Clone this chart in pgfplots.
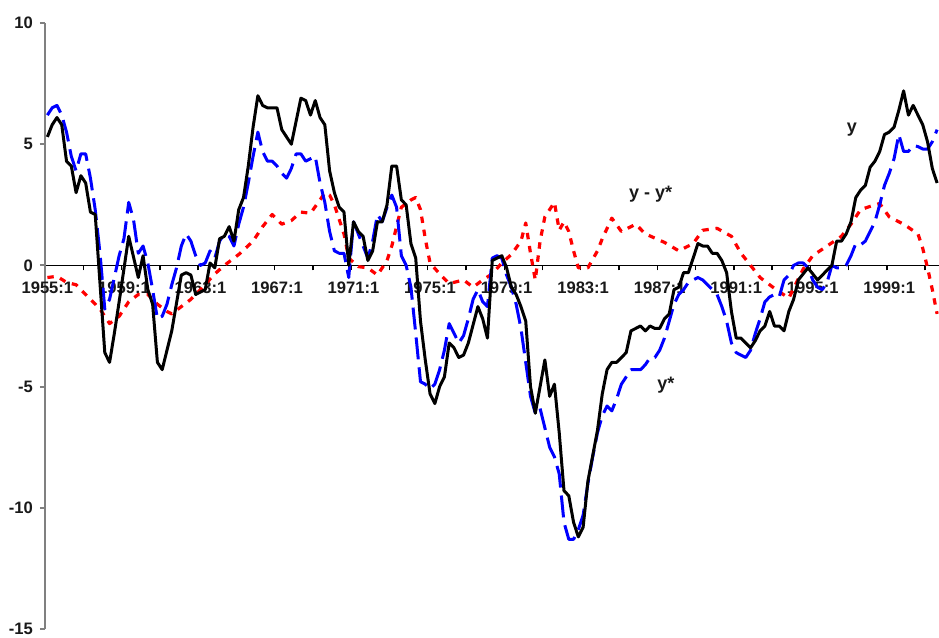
\documentclass[border=0pt]{standalone}
\usepackage{fontspec}
\setmainfont{Liberation Sans}
\usepackage{pgfplots}
\pgfplotsset{compat=1.18}
\definecolor{ystar}{RGB}{0,0,255}
\definecolor{gap}{RGB}{255,0,0}
\begin{document}
\begin{tikzpicture}
\begin{axis}[
  scale only axis, width=447pt, height=303pt,
  xmin=-0.5, xmax=186.4, ymin=-15, ymax=10,
  axis x line*=middle, axis y line*=left,
  hide obscured x ticks=false, hide obscured y ticks=false,
  x axis line style={black, line width=0.8pt},
  y axis line style={gray, line width=1pt},
  xtick={0,16,...,176},
  xticklabels={1955:1,1959:1,1963:1,1967:1,1971:1,1975:1,1979:1,1983:1,1987:1,1991:1,1995:1,1999:1},
  minor xtick={-0.5,7.5,...,183.5},
  ytick={-15,-10,-5,0,5,10},
  yticklabels={-15,-10,-5,0,5,10},
  tick align=outside,
  major tick length=2.5pt, minor tick length=2.5pt,
  major x tick style={draw=none},
  minor x tick style={black, line width=0.7pt},
  y tick style={gray, line width=1pt},
  xticklabel style={font=\bfseries\fontsize{8.3}{10}\selectfont, text=black!90, yshift=-2pt},
  yticklabel style={font=\bfseries\fontsize{8.3}{10}\selectfont, text=black!90},
  line join=round,
]
\coordinate (bl) at (rel axis cs:0,0);
\coordinate (tr) at (rel axis cs:1,1);

\addplot[gap, line width=1.6pt, dash pattern=on 3.2pt off 3.4pt] coordinates {
(0,-0.5)(2,-0.45)(4,-0.7)(6,-0.8)(8,-1.2)(10,-1.6)(11,-1.8)(13,-2.4)(15,-2.1)(17,-1.5)
(19,-1.2)(21,-1.2)(23,-1.6)(25,-1.9)(26,-2.0)(28,-1.7)(30,-1.4)(32,-1.0)(35,-0.35)(37,0.0)
(40,0.45)(43,1.0)(45,1.6)(47,2.1)(49,1.7)(51,1.85)(53,2.2)(55,2.15)(57,2.7)(58,3.0)
(59,2.9)(60,2.5)(62,1.3)(63,0.3)(65,-0.05)(67,-0.1)(69,-0.4)(71,0.2)(72,0.8)(73,1.6)
(74,2.4)(76,2.7)(77,2.8)(78,2.3)(79,1.1)(80,0.1)(82,-0.35)(84,-0.75)(87,-0.6)(89,-0.9)
(91,-0.6)(93,-0.35)(95,0.1)(97,0.45)(99,1.0)(100,1.75)(101,0.5)(102,-0.6)(103,1.0)(104,2.0)
(106,2.6)(107,1.45)(108,1.8)(109,1.4)(110,0.6)(111,-0.1)(113,-0.1)(115,0.6)(116,1.1)(118,1.95)
(120,1.4)(123,1.7)(125,1.3)(129,0.95)(132,0.6)(135,0.9)(137,1.45)(140,1.53)(143,1.2)(145,0.5)
(147,0.0)(149,-0.5)(152,-0.95)(155,-1.35)(158,-0.15)(160,0.4)(163,0.8)(166,1.2)(168,1.7)(170,2.3)
(173,2.5)(174,2.55)(176,2.0)(179,1.7)(182,1.3)(183,0.7)(184,-0.1)(185,-1.0)(186,-2.0)
};

\addplot[ystar, line width=1.5pt, dash pattern=on 11pt off 4pt] coordinates {
(0,6.2)(1,6.5)(2,6.6)(3,6.2)(4,5.5)(5,4.5)(6,3.9)(7,4.6)(8,4.6)(9,3.6)
(10,2.3)(11,0.5)(12,-1.8)(13,-1.4)(14,-0.5)(15,0.4)(16,1.1)(17,2.6)(18,1.9)(19,0.5)
(20,0.8)(21,0.1)(22,-1.0)(23,-2.2)(24,-2.1)(25,-1.6)(26,-0.8)(27,-0.1)(28,0.8)(29,1.3)
(30,1.0)(31,0.4)(32,0.0)(33,0.1)(34,0.6)(35,0.3)(36,1.0)(37,1.3)(38,1.2)(39,0.8)
(40,1.7)(41,2.4)(42,3.4)(43,4.5)(44,5.5)(45,4.7)(46,4.3)(47,4.3)(48,4.1)(49,3.8)
(50,3.6)(51,4.0)(52,4.6)(53,4.6)(54,4.3)(55,4.4)(56,4.5)(57,3.4)(58,2.6)(59,1.4)
(60,0.6)(61,0.5)(62,0.5)(63,-0.5)(64,1.8)(65,1.3)(66,0.8)(67,0.3)(68,1.0)(69,2.1)
(70,1.8)(71,2.4)(72,2.9)(73,2.4)(74,0.4)(75,0.0)(76,-0.9)(77,-2.8)(78,-4.8)(79,-4.9)
(80,-5.1)(81,-4.9)(82,-4.3)(83,-3.5)(84,-2.4)(85,-2.8)(86,-3.2)(87,-2.9)(88,-2.2)(89,-1.4)
(90,-1.0)(91,-1.5)(92,-1.7)(93,0.3)(94,0.4)(95,0.3)(96,-0.4)(97,-0.9)(98,-1.6)(99,-2.6)
(100,-4.0)(101,-5.4)(102,-6.1)(103,-5.9)(104,-6.7)(105,-7.5)(106,-7.9)(107,-8.6)(108,-10.6)(109,-11.3)
(110,-11.3)(111,-10.9)(112,-10.3)(113,-9.0)(114,-7.9)(115,-6.9)(116,-6.2)(117,-5.8)(118,-6.0)(119,-5.5)
(120,-4.9)(121,-4.6)(122,-4.3)(123,-4.3)(124,-4.3)(125,-4.1)(126,-3.8)(127,-3.8)(128,-3.5)(129,-3.0)
(130,-2.3)(131,-1.6)(132,-1.2)(133,-1.0)(134,-0.7)(135,-0.6)(136,-0.5)(137,-0.6)(138,-0.8)(139,-1.0)
(140,-1.2)(141,-1.7)(142,-2.3)(143,-3.2)(144,-3.6)(145,-3.7)(146,-3.8)(147,-3.5)(148,-2.8)(149,-2.2)
(150,-1.5)(151,-1.3)(152,-1.2)(153,-1.3)(154,-0.6)(155,-0.4)(156,0.0)(157,0.1)(158,0.1)(159,-0.1)
(160,-0.6)(161,-0.9)(162,-1.0)(163,-0.7)(164,0.0)(165,-0.1)(166,-0.1)(167,0.0)(168,0.4)(169,0.9)
(170,0.85)(171,1.0)(172,1.4)(173,1.8)(174,2.5)(175,3.3)(176,3.8)(177,4.4)(178,5.4)(179,4.7)
(180,4.7)(181,4.95)(182,4.9)(183,4.8)(184,4.8)(185,5.1)(186,5.6)
};

\addplot[black, line width=1.5pt] coordinates {
(0,5.3)(1,5.8)(2,6.1)(3,5.8)(4,4.3)(5,4.1)(6,3.0)(7,3.7)(8,3.4)(9,2.2)
(10,2.1)(12,-3.6)(13,-4.0)(14,-2.8)(15,-1.5)(17,1.2)(19,-0.5)(20,0.4)(21,-1.0)(22,-1.6)
(23,-4.0)(24,-4.3)(26,-2.7)(28,-0.4)(29,-0.3)(30,-0.4)(31,-1.2)(33,-1.0)(34,0.1)(35,-0.1)
(36,1.1)(37,1.2)(38,1.6)(39,1.0)(40,2.3)(41,2.8)(42,4.1)(43,5.7)(44,7.0)(45,6.6)
(46,6.5)(48,6.5)(49,5.6)(51,5.0)(53,6.9)(54,6.8)(55,6.2)(56,6.8)(57,6.1)(58,5.8)
(59,3.9)(60,3.0)(61,2.4)(62,2.2)(63,0.0)(64,1.8)(65,1.4)(66,1.2)(67,0.2)(68,0.6)
(69,1.8)(70,1.8)(71,2.5)(72,4.1)(73,4.1)(74,2.7)(75,2.5)(76,0.9)(77,0.3)(78,-2.3)
(79,-3.9)(80,-5.3)(81,-5.7)(82,-5.0)(83,-4.6)(84,-3.2)(85,-3.4)(86,-3.8)(87,-3.7)(88,-3.2)
(90,-1.7)(91,-2.2)(92,-3.0)(93,0.2)(94,0.3)(95,0.4)(96,-0.1)(97,-0.9)(98,-1.2)(99,-1.7)
(100,-2.3)(101,-5.0)(102,-6.1)(103,-5.0)(104,-3.9)(105,-5.4)(106,-4.9)(107,-6.9)(108,-9.3)(109,-9.5)
(110,-10.6)(111,-11.2)(112,-10.8)(113,-8.9)(115,-6.8)(116,-5.3)(117,-4.3)(118,-4.0)(119,-4.0)(120,-3.8)
(121,-3.6)(122,-2.7)(123,-2.6)(124,-2.5)(125,-2.7)(126,-2.5)(127,-2.6)(128,-2.6)(129,-2.2)(130,-2.0)
(131,-1.0)(132,-0.9)(133,-0.3)(134,-0.3)(135,0.3)(136,0.9)(137,0.8)(138,0.8)(139,0.5)(140,0.5)
(141,0.2)(142,-0.3)(143,-1.9)(144,-3.0)(145,-3.0)(146,-3.2)(147,-3.4)(148,-3.1)(149,-2.7)(150,-2.5)
(151,-1.9)(152,-2.5)(153,-2.5)(154,-2.7)(155,-1.9)(156,-1.4)(157,-0.6)(159,-0.1)(161,-0.6)(164,0.0)
(165,1.0)(166,1.0)(167,1.3)(168,1.8)(169,2.8)(170,3.1)(171,3.3)(172,4.05)(173,4.3)(174,4.7)
(175,5.4)(176,5.5)(177,5.7)(178,6.4)(179,7.2)(180,6.2)(181,6.6)(182,6.2)(183,5.8)(184,5.1)
(185,4.0)(186,3.4)
};

\node[font=\bfseries\fontsize{9}{10}\selectfont, text=black!90, inner sep=0pt] at (axis cs:168.2,5.6) {y};
\node[font=\bfseries\fontsize{9}{10}\selectfont, text=black!90, inner sep=0pt] at (axis cs:126.1,2.95) {y - y*};
\node[font=\bfseries\fontsize{9}{10}\selectfont, text=black!90, inner sep=0pt] at (axis cs:129.3,-4.95) {y*};
\end{axis}
\pgfresetboundingbox
\path ([xshift=-22.5pt, yshift=-4pt]bl) rectangle ([yshift=11.5pt]tr);
\end{tikzpicture}
\end{document}
